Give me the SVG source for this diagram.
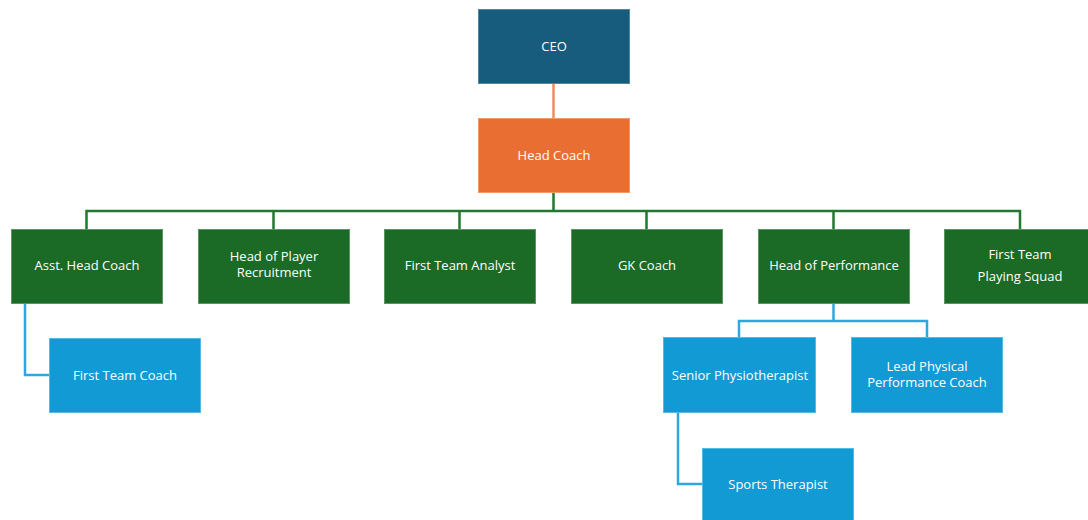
<svg xmlns="http://www.w3.org/2000/svg" width="1088" height="520" viewBox="0 0 1088 520">
<style>
text{font-family:"Open Sans","DejaVu Sans",sans-serif;font-size:13px;fill:#ffffff;text-anchor:middle;dominant-baseline:central}
.ceo{fill:#175B7D;stroke:#4f86a3;stroke-width:1}
.hc{fill:#E86F31;stroke:#f09a6c;stroke-width:1}
.g{fill:#1B6A26;stroke:#5a9560;stroke-width:1}
.b{fill:#129AD4;stroke:#56b9e4;stroke-width:1}
.lo{stroke:#F08B5C;stroke-width:2.5;fill:none}
.lg{stroke:#1F7A2E;stroke-width:2.5;fill:none}
.lb{stroke:#2EA7DF;stroke-width:2.5;fill:none}
</style>
<rect width="1088" height="520" fill="#ffffff"/>
<g id="connectors">
<path class="lo" d="M553.5 83V118"/>
<path class="lg" d="M553.5 193V211M86.5 229V211H1020V229M273.5 211V229M459.5 211V229M646.5 211V229M833.5 211V229"/>
<path class="lb" d="M25 303V375H49"/>
<path class="lb" d="M833.5 303V321M739 337V321H927V337"/>
<path class="lb" d="M678 412V484H702"/>
</g>
<g id="ceo"><rect class="ceo" x="478.5" y="9.5" width="151" height="74"/><text x="554" y="46">CEO</text></g>
<g id="head-coach"><rect class="hc" x="478.5" y="118.5" width="151" height="74"/><text x="554" y="155">Head Coach</text></g>
<g id="asst-head-coach"><rect class="g" x="11.5" y="229.5" width="151" height="74"/><text x="87" y="265">Asst. Head Coach</text></g>
<g id="head-player-recruitment"><rect class="g" x="198.5" y="229.5" width="151" height="74"/><text x="274" y="256">Head of Player</text><text x="274" y="272">Recruitment</text></g>
<g id="first-team-analyst"><rect class="g" x="384.5" y="229.5" width="151" height="74"/><text x="460" y="265">First Team Analyst</text></g>
<g id="gk-coach"><rect class="g" x="571.5" y="229.5" width="151" height="74"/><text x="647" y="265">GK Coach</text></g>
<g id="head-of-performance"><rect class="g" x="758.5" y="229.5" width="151" height="74"/><text x="834" y="265">Head of Performance</text></g>
<g id="first-team-playing-squad"><rect class="g" x="944.5" y="229.5" width="151" height="74"/><text x="1020" y="254">First Team</text><text x="1020" y="276">Playing Squad</text></g>
<g id="first-team-coach"><rect class="b" x="49.5" y="338.5" width="151" height="74"/><text x="125" y="375">First Team Coach</text></g>
<g id="senior-physiotherapist"><rect class="b" x="663.5" y="337.5" width="152" height="75"/><text x="740" y="375">Senior Physiotherapist</text></g>
<g id="lead-physical-performance-coach"><rect class="b" x="851.5" y="337.5" width="151" height="75"/><text x="927" y="366">Lead Physical</text><text x="927" y="382">Performance Coach</text></g>
<g id="sports-therapist"><rect class="b" x="702.5" y="448.5" width="151" height="80"/><text x="778" y="484">Sports Therapist</text></g>
</svg>
